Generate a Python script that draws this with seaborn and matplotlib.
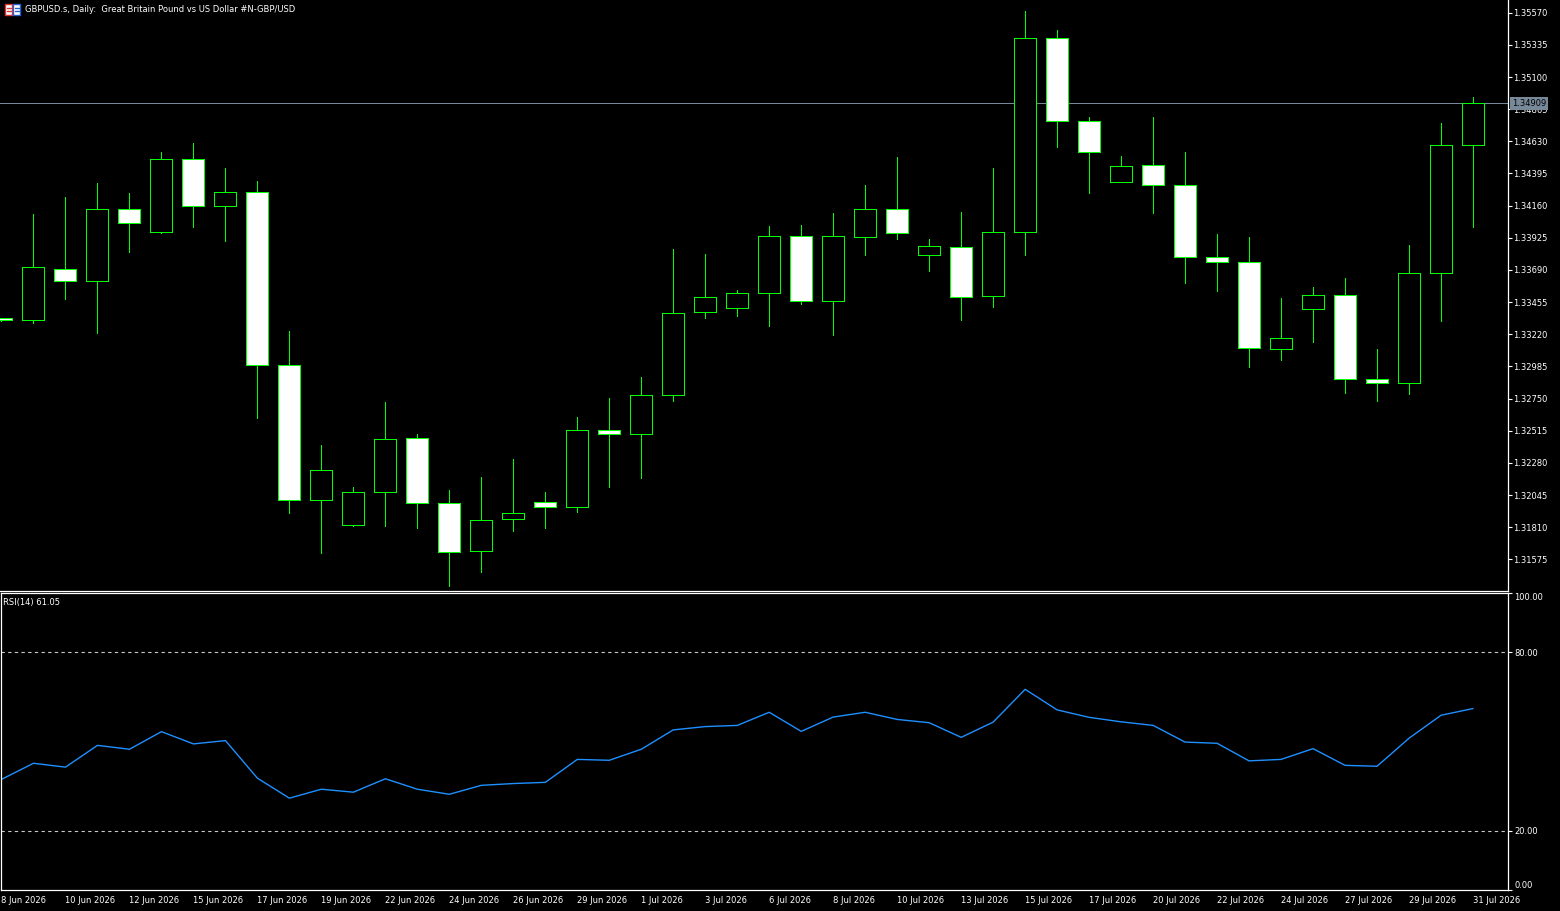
import matplotlib.pyplot as plt
import seaborn as sns
import numpy as np
import pandas as pd
from matplotlib.patches import Rectangle
import matplotlib.transforms as mtransforms

# GBPUSD daily bars (MT5 style, Sunday bars included)
dates = pd.bdate_range('2026-06-08', '2026-07-31', freq='C',
                       weekmask='Sun Mon Tue Wed Thu Fri')

open_ = [1.33336, 1.33322, 1.33699, 1.33607, 1.34133, 1.33965, 1.34499, 1.34155,
         1.34257, 1.32993, 1.32008, 1.31823, 1.32065, 1.32459, 1.31984, 1.31633,
         1.31867, 1.31992, 1.31955, 1.32518, 1.32489, 1.32774, 1.33380, 1.33410,
         1.33519, 1.33936, 1.33461, 1.33928, 1.34133, 1.33797, 1.33855, 1.33497,
         1.33965, 1.35383, 1.34776, 1.34330, 1.34455, 1.34308, 1.33782, 1.33746,
         1.33110, 1.33402, 1.33504, 1.32891, 1.32861, 1.33665, 1.34601]
high = [1.33338, 1.34097, 1.34221, 1.34323, 1.34250, 1.34550, 1.34615, 1.34433,
        1.34338, 1.33241, 1.32408, 1.32101, 1.32722, 1.32489, 1.32079, 1.32174,
        1.32306, 1.32065, 1.32613, 1.32752, 1.32905, 1.33841, 1.33804, 1.33541,
        1.34009, 1.34016, 1.34104, 1.34308, 1.34513, 1.33914, 1.34111, 1.34433,
        1.35580, 1.35441, 1.34805, 1.34520, 1.34805, 1.34550, 1.33950, 1.33928,
        1.33483, 1.33563, 1.33629, 1.33110, 1.33870, 1.34762, 1.34952]
low = [1.33320, 1.33300, 1.33480, 1.33231, 1.33823, 1.33962, 1.34006, 1.33904,
       1.32610, 1.31916, 1.31619, 1.31821, 1.31821, 1.31806, 1.31382, 1.31484,
       1.31784, 1.31806, 1.31923, 1.32106, 1.32171, 1.32734, 1.33341, 1.33355,
       1.33282, 1.33443, 1.33217, 1.33801, 1.33914, 1.33684, 1.33326, 1.33417,
       1.33801, 1.34591, 1.34254, 1.34330, 1.34108, 1.33592, 1.33538, 1.32978,
       1.33029, 1.33161, 1.32788, 1.32730, 1.32781, 1.33319, 1.34001]
close = [1.33322, 1.33709, 1.33607, 1.34133, 1.34031, 1.34499, 1.34155, 1.34257,
         1.32993, 1.32008, 1.32225, 1.32065, 1.32452, 1.31984, 1.31626, 1.31860,
         1.31911, 1.31955, 1.32518, 1.32489, 1.32774, 1.33373, 1.33490, 1.33519,
         1.33936, 1.33461, 1.33936, 1.34133, 1.33958, 1.33863, 1.33490, 1.33965,
         1.35383, 1.34776, 1.34550, 1.34447, 1.34308, 1.33782, 1.33746, 1.33117,
         1.33190, 1.33504, 1.32891, 1.32861, 1.33665, 1.34601, 1.34909]
rsi = [37.3, 42.7, 41.4, 48.7, 47.4, 53.3, 49.2, 50.3, 37.7, 31.0, 34.0, 33.0,
       37.5, 34.0, 32.3, 35.3, 35.9, 36.3, 44.0, 43.7, 47.4, 53.9, 55.0, 55.4,
       59.8, 53.4, 58.2, 59.8, 57.4, 56.3, 51.4, 56.5, 67.5, 60.6, 58.1, 56.6,
       55.4, 49.8, 49.4, 43.5, 44.0, 47.6, 42.0, 41.7, 51.1, 58.8, 61.05]

price_ticks = [1.35570, 1.35335, 1.35100, 1.34865, 1.34630, 1.34395, 1.34160,
               1.33925, 1.33690, 1.33455, 1.33220, 1.32985, 1.32750, 1.32515,
               1.32280, 1.32045, 1.31810, 1.31575]
last_price = 1.34909
title = 'GBPUSD.s, Daily:  Great Britain Pound vs US Dollar #N-GBP/USD'

GREEN = '#00ff00'
W, H = 1560, 911
PX = 0.72  # one pixel in points at dpi 100

sns.set_style('dark', rc={'axes.facecolor': 'black', 'figure.facecolor': 'black'})
plt.rcParams['font.family'] = ['DejaVu Sans']

df = pd.DataFrame({'date': dates, 'open': open_, 'high': high, 'low': low,
                   'close': close, 'rsi': rsi})
df['x'] = np.arange(len(df))

fig = plt.figure(figsize=(W / 100, H / 100), dpi=100, facecolor='black')
ax = fig.add_axes([0, 1 - 590.5 / H, 1508 / W, 590.5 / H])
ax_rsi = fig.add_axes([0.5 / W, (H - 890) / H, 1507.5 / W, (890 - 593) / H])

for a in (ax, ax_rsi):
    a.set_facecolor('black')
    a.set_xlim(-1 / 32, 1507 / 32)
    for s in a.spines.values():
        s.set_color('white')
        s.set_linewidth(0.9)

# candles: wick first, then body on top (hollow = up, white = down)
ax.vlines(df['x'], df['low'], df['high'], color=GREEN, lw=PX,
          antialiased=False, zorder=1)
bull = df['close'] >= df['open']
body_low = np.minimum(df['open'], df['close'])
body_h = (df['close'] - df['open']).abs()
ax.bar(df['x'], body_h, bottom=body_low, width=0.68,
       color=np.where(bull, 'black', 'white'), edgecolor=GREEN, linewidth=PX,
       antialiased=False, zorder=2)

ax.set_ylim(1.31347, 1.35663)
ax.axhline(last_price, color='#778899', lw=PX, antialiased=False, zorder=0)
ax.spines['top'].set_visible(False)
ax.spines['left'].set_visible(False)
ax.yaxis.tick_right()
ax.set_yticks(price_ticks)
ax.set_yticklabels([f'{p:.5f}' for p in price_ticks])
ax.set_xticks([])
ax.tick_params(axis='y', colors='white', labelsize=6, length=3, width=0.8, pad=1)
ax.grid(False)

trans = mtransforms.blended_transform_factory(ax.transAxes, ax.transData)
ax.text(1 + 4 / 1508, last_price, f'{last_price:.5f}', transform=trans, color='black',
        fontsize=6, va='center', ha='left',
        bbox=dict(facecolor='#778899', edgecolor='none', pad=1.4))

# RSI panel
sns.lineplot(data=df, x='x', y='rsi', ax=ax_rsi, color='#1e90ff', lw=1)
ax_rsi.set_ylim(0.2, 99.8)
for lvl in (80, 20):
    ax_rsi.axhline(lvl, color='#c8c8c8', lw=0.8, ls=(0, (3, 3)))
ax_rsi.yaxis.tick_right()
ax_rsi.set_yticks([0.2, 20, 80, 99.8])
ax_rsi.set_yticklabels(['0.00', '20.00', '80.00', '100.00'])
ylbls = ax_rsi.get_yticklabels()
ylbls[0].set_va('bottom')
ylbls[-1].set_va('top')
ax_rsi.set_xticks(df['x'][::2])
ax_rsi.set_xticklabels([f'{d.day} {d.strftime("%b %Y")}' for d in df['date'][::2]])
for lbl in ax_rsi.get_xticklabels():
    lbl.set_ha('left')
ax_rsi.tick_params(colors='white', labelsize=6, length=3, width=0.8, pad=1.5)
ax_rsi.set_xlabel('')
ax_rsi.set_ylabel('')
ax_rsi.grid(False)
ax_rsi.text(3 / 1508, 1 - 9 / 297, f'RSI(14) {rsi[-1]:.2f}', transform=ax_rsi.transAxes,
            color='white', fontsize=6, va='center', ha='left')

# header icon and title
for x0, col in ((5, '#e03030'), (13, '#2060d0')):
    fig.add_artist(Rectangle((x0 / W, 1 - 15 / H), 7 / W, 11 / H, transform=fig.transFigure,
                             facecolor='white', edgecolor=col, lw=1))
    for yy in (7.5, 10.5):
        fig.add_artist(plt.Line2D([(x0 + 1.5) / W, (x0 + 5.5) / W], [1 - yy / H, 1 - yy / H],
                                  transform=fig.transFigure, color=col, lw=1))
fig.text(25 / W, 1 - 9.5 / H, title, color='white', fontsize=6, va='center', ha='left')

fig.savefig('out.png', dpi=100, facecolor='black')
